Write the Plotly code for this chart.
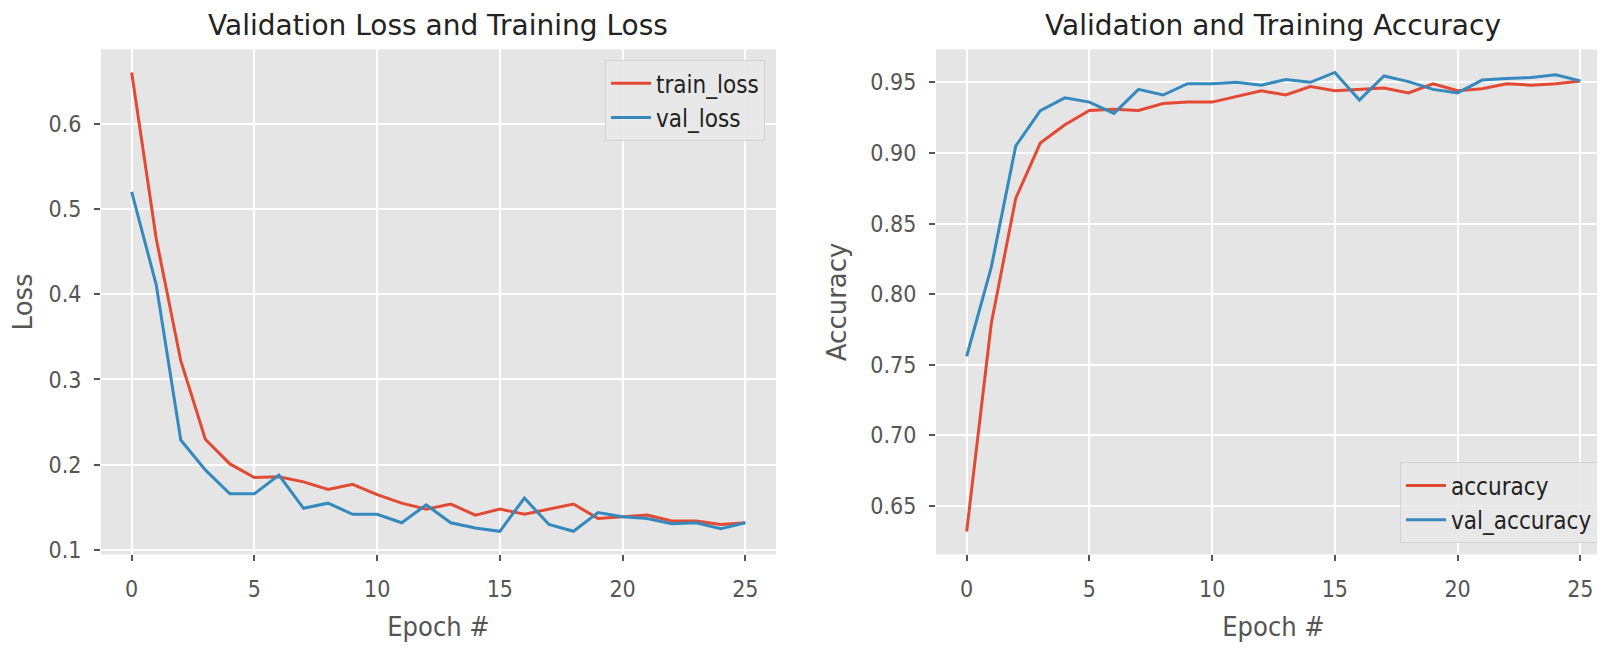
import plotly.graph_objects as go
from plotly.subplots import make_subplots

epochs = list(range(26))
train_loss = [0.660, 0.465, 0.322, 0.230, 0.201, 0.185, 0.186, 0.180, 0.171, 0.177,
              0.165, 0.155, 0.148, 0.154, 0.141, 0.148, 0.142, 0.148, 0.154, 0.137,
              0.139, 0.141, 0.134, 0.134, 0.130, 0.132]
val_loss = [0.520, 0.411, 0.229, 0.194, 0.166, 0.166, 0.188, 0.149, 0.155, 0.142,
            0.142, 0.132, 0.153, 0.132, 0.126, 0.122, 0.161, 0.130, 0.122, 0.144,
            0.139, 0.137, 0.131, 0.132, 0.125, 0.132]
accuracy = [0.632, 0.779, 0.868, 0.907, 0.920, 0.930, 0.931, 0.930, 0.935, 0.936,
            0.936, 0.940, 0.944, 0.941, 0.947, 0.944, 0.945, 0.946, 0.9425, 0.949,
            0.944, 0.9455, 0.949, 0.948, 0.949, 0.951]
val_accuracy = [0.756, 0.819, 0.905, 0.930, 0.939, 0.936, 0.928, 0.945, 0.941, 0.949,
                0.949, 0.950, 0.948, 0.952, 0.950, 0.957, 0.9375, 0.9545, 0.9505, 0.945,
                0.9425, 0.9516, 0.9527, 0.9534, 0.9553, 0.951]

x_ticks = [0, 5, 10, 15, 20, 25]
loss_ticks = [0.1, 0.2, 0.3, 0.4, 0.5, 0.6]
acc_ticks = [0.65, 0.70, 0.75, 0.80, 0.85, 0.90, 0.95]

RED = "#E24A33"
BLUE = "#348ABD"
GRAY = "#555555"
COND = "DejaVu Sans Condensed, DejaVu Sans"

W, H = 1605, 651

fig = make_subplots(rows=1, cols=2)

fig.add_trace(go.Scatter(x=epochs, y=train_loss, mode="lines", name="train_loss",
                         line=dict(color=RED, width=3), legend="legend"), row=1, col=1)
fig.add_trace(go.Scatter(x=epochs, y=val_loss, mode="lines", name="val_loss",
                         line=dict(color=BLUE, width=3), legend="legend"), row=1, col=1)
fig.add_trace(go.Scatter(x=epochs, y=accuracy, mode="lines", name="accuracy",
                         line=dict(color=RED, width=3), legend="legend2"), row=1, col=2)
fig.add_trace(go.Scatter(x=epochs, y=val_accuracy, mode="lines", name="val_accuracy",
                         line=dict(color=BLUE, width=3), legend="legend2"), row=1, col=2)

ydom = [1 - 554 / H, 1 - 42 / H]
axis_common = dict(
    showgrid=True, gridcolor="white", gridwidth=2, zeroline=False,
    showline=False, ticks="outside", ticklen=6, tickwidth=1.5, tickcolor=GRAY,
    tickfont=dict(family=COND, size=23, color=GRAY), ticklabelstandoff=8,
)

fig.update_xaxes(**axis_common, range=[-1.25, 26.25], tickvals=x_ticks,
                 title=dict(text="Epoch #", font=dict(family=COND, size=27, color=GRAY), standoff=16))
fig.update_xaxes(domain=[93 / W, 768 / W], row=1, col=1)
fig.update_xaxes(domain=[928 / W, 1603 / W], row=1, col=2)

fig.update_yaxes(**axis_common)
fig.update_yaxes(domain=ydom, range=[0.095, 0.687], tickvals=loss_ticks, tickformat=".1f",
                 title=dict(text="Loss", font=dict(family="DejaVu Sans", size=26, color=GRAY), standoff=16),
                 row=1, col=1)
fig.update_yaxes(domain=ydom, range=[0.6157, 0.9733], tickvals=acc_ticks, tickformat=".2f",
                 title=dict(text="Accuracy", font=dict(family="DejaVu Sans", size=26, color=GRAY), standoff=16),
                 row=1, col=2)

fig.add_annotation(text="Validation Loss and Training Loss", xref="paper", yref="paper",
                   x=430 / W, y=1 - 18 / H, xanchor="center", yanchor="middle", showarrow=False,
                   font=dict(family="DejaVu Sans", size=28, color="#222222"))
fig.add_annotation(text="Validation and Training Accuracy", xref="paper", yref="paper",
                   x=1265 / W, y=1 - 18 / H, xanchor="center", yanchor="middle", showarrow=False,
                   font=dict(family="DejaVu Sans", size=28, color="#222222"))

legend_common = dict(
    bgcolor="rgba(232,232,232,0.9)", bordercolor="#d2d2d2", borderwidth=1,
    font=dict(family=COND, size=24, color="#222222"), xref="paper", yref="paper",
    itemwidth=40,
)

fig.update_layout(
    width=W, height=H,
    margin=dict(l=0, r=0, t=0, b=0),
    paper_bgcolor="white", plot_bgcolor="#E5E5E5",
    showlegend=True,
    legend=dict(**legend_common, x=757 / W, y=1 - 53 / H, xanchor="right", yanchor="top"),
    legend2=dict(**legend_common, x=1590 / W, y=1 - 543 / H, xanchor="right", yanchor="bottom"),
)

fig.write_html("out.html")
